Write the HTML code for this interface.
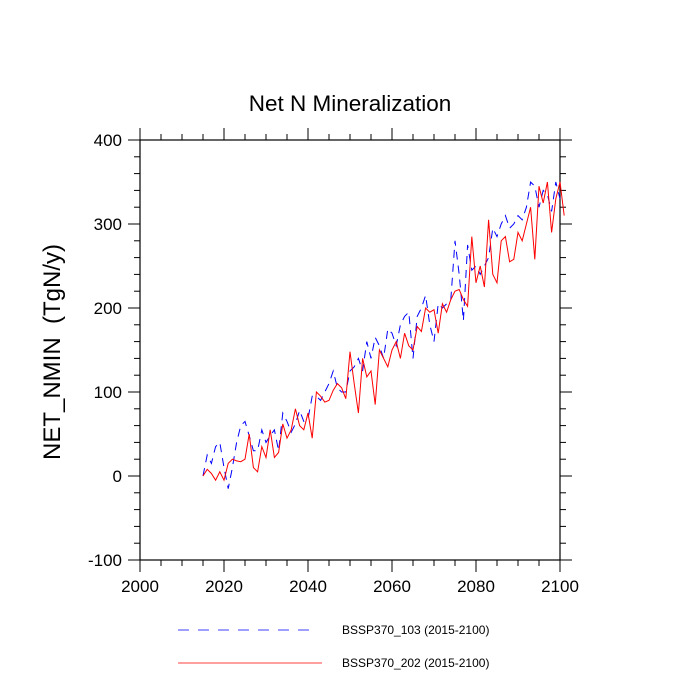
<!DOCTYPE html>
<html><head><meta charset="utf-8"><style>body{margin:0;background:#fff}svg{display:block;font-family:"Liberation Sans",sans-serif}</style></head>
<body>
<svg id="chart" width="700" height="700" viewBox="0 0 700 700">
<text x="350" y="111" text-anchor="middle" font-size="22.5">Net N Mineralization</text>
<text xml:space="preserve" transform="translate(60,352) rotate(-90)" text-anchor="middle" font-size="24">NET_NMIN  (TgN/y)</text>
<rect x="140" y="140" width="420" height="420" fill="none" stroke="#000" stroke-width="1.2"/>
<g id="axes"></g>
<g id="series"></g>
<g>
<line x1="178" y1="630" x2="318" y2="630" stroke="#00f" stroke-width="0.8" stroke-dasharray="11,9"/>
<text x="342" y="634" font-size="12">BSSP370_103 (2015-2100)</text>
<line x1="178" y1="663" x2="322" y2="663" stroke="#f00" stroke-width="0.8"/>
<text x="342" y="667" font-size="12">BSSP370_202 (2015-2100)</text>
</g>
</svg>
<script>
const startYear = 2015;
const xTicks = [2000, 2020, 2040, 2060, 2080, 2100];
const yTicks = [-100, 0, 100, 200, 300, 400];
const series103 = [0,25,15,35,40,10,-15,10,40,60,65,48,30,30,55,40,48,55,30,75,65,52,62,78,65,68,95,95,90,100,110,125,105,100,100,125,130,140,125,160,140,165,155,140,175,170,155,180,190,195,140,190,200,215,180,160,205,200,205,210,280,240,185,275,245,250,240,250,260,295,285,300,310,295,300,310,305,320,350,345,320,340,335,315,350,330];
const series202 = [0,8,3,-5,5,-5,15,20,18,17,20,50,10,5,35,22,55,22,28,62,45,55,80,60,55,75,45,100,95,88,90,102,110,105,92,148,110,75,140,118,125,85,150,140,130,150,160,140,170,155,150,178,172,200,195,198,170,205,195,210,220,222,210,202,285,230,250,225,305,240,230,280,285,255,258,290,280,300,320,258,345,325,350,290,330,350,310];
const X = v => 140 + (v - 2000) * 4.2;
const Y = v => 476 - v * 0.84;
const NS = "http://www.w3.org/2000/svg";
const axes = document.getElementById('axes');
function ln(x1,y1,x2,y2,name){
  const l=document.createElementNS(NS,'line');
  l.setAttribute('x1',x1);l.setAttribute('y1',y1);l.setAttribute('x2',x2);l.setAttribute('y2',y2);
  l.setAttribute('stroke','#000');l.setAttribute('stroke-width','1');
  
  
  axes.appendChild(l);
}
function tx(x,y,s,anchor,name){
  const t=document.createElementNS(NS,'text');
  t.setAttribute('x',x);t.setAttribute('y',y);t.setAttribute('text-anchor',anchor);t.setAttribute('font-size','17');
  t.textContent=s;
  
  
  axes.appendChild(t);
}
for(let v=2000; v<=2100; v+=5){
  const major = xTicks.includes(v); const L = major?12:6; const x=X(v);
  ln(x,560,x,560+L,'x-tick'); ln(x,140,x,140-L,'x-tick-top');
}
for(let v=-100; v<=400; v+=20){
  const major = yTicks.includes(v); const L = major?12:6; const y=Y(v);
  ln(140,y,140-L,y,'y-tick'); ln(560,y,560+L,y,'y-tick-right');
}
xTicks.forEach(v=>tx(X(v),592,String(v),'middle','x-tick-label'));
yTicks.forEach(v=>tx(122,Y(v)+6,String(v),'end','y-tick-label'));
function path(data,color,dash,name){
  const p=document.createElementNS(NS,'path');
  p.setAttribute('d',data.map((v,i)=>(i?'L':'M')+X(startYear+i).toFixed(1)+' '+Y(v).toFixed(1)).join(''));
  p.setAttribute('fill','none');p.setAttribute('stroke',color);p.setAttribute('stroke-width','1');
  if(dash)p.setAttribute('stroke-dasharray',dash);
  
  
  document.getElementById('series').appendChild(p);
}
path(series103,'#00f','8,6','series-bssp370-103');
path(series202,'#f00',null,'series-bssp370-202');
</script>
</body></html>
